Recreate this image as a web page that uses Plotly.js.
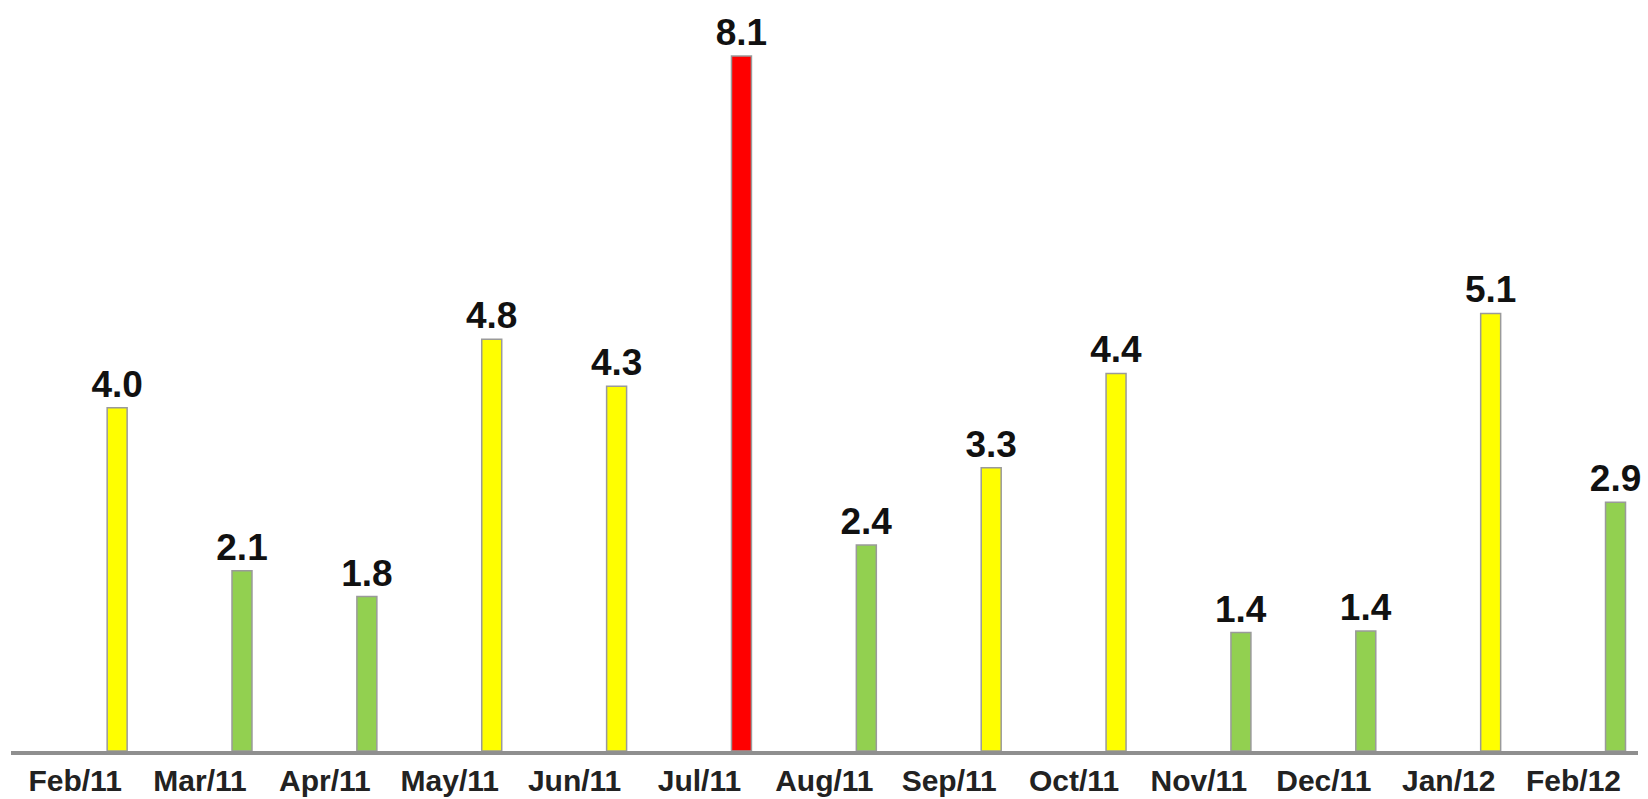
<!DOCTYPE html>
<html>
<head>
<meta charset="utf-8">
<script src="https://cdn.plot.ly/plotly-3.0.1.min.js"></script>
<style>
html,body{margin:0;padding:0;background:#fff;}
#chart{width:1648px;height:799px;}
</style>
</head>
<body>
<div id="chart"></div>
<script>
const months = ["Feb/11","Mar/11","Apr/11","May/11","Jun/11","Jul/11","Aug/11","Sep/11","Oct/11","Nov/11","Dec/11","Jan/12","Feb/12"];
const values = [4.0, 2.1, 1.8, 4.8, 4.25, 8.1, 2.4, 3.3, 4.4, 1.38, 1.4, 5.1, 2.9];
const levels = ["yellow","green","green","yellow","yellow","red","green","yellow","yellow","green","green","yellow","green"];
const levelColors = {yellow: "#FFFF00", green: "#92D050", red: "#FF0000"};

const trace = {
  type: "bar",
  x: months,
  y: values,
  text: values.map(v => v.toFixed(1)),
  textposition: "outside",
  constraintext: "none",
  cliponaxis: false,
  textfont: {family: "Liberation Sans, Arial, sans-serif", size: 37, color: "#111", weight: "bold"},
  marker: {
    color: levels.map(l => levelColors[l]),
    line: {color: "#9a9a9a", width: 1.5}
  },
  hoverinfo: "x+y"
};

const layout = {
  width: 1648,
  height: 799,
  margin: {l: 11, r: 10, t: 20, b: 48},
  paper_bgcolor: "#fff",
  plot_bgcolor: "#fff",
  bargap: 0.84,
  showlegend: false,
  xaxis: {
    type: "category",
    range: [-0.85, 12.18],
    showline: true,
    linecolor: "#8f8f8f",
    linewidth: 4,
    showgrid: false,
    zeroline: false,
    ticks: "",
    ticklabelshift: -42,
    tickfont: {family: "Liberation Sans, Arial, sans-serif", size: 30, color: "#222", weight: "bold"},
    fixedrange: true
  },
  yaxis: {
    range: [0, 731/85.8],
    showgrid: false,
    zeroline: false,
    showline: false,
    showticklabels: false,
    ticks: "",
    fixedrange: true
  }
};

Plotly.newPlot("chart", [trace], layout, {displayModeBar: false, staticPlot: true});
</script>
</body>
</html>
